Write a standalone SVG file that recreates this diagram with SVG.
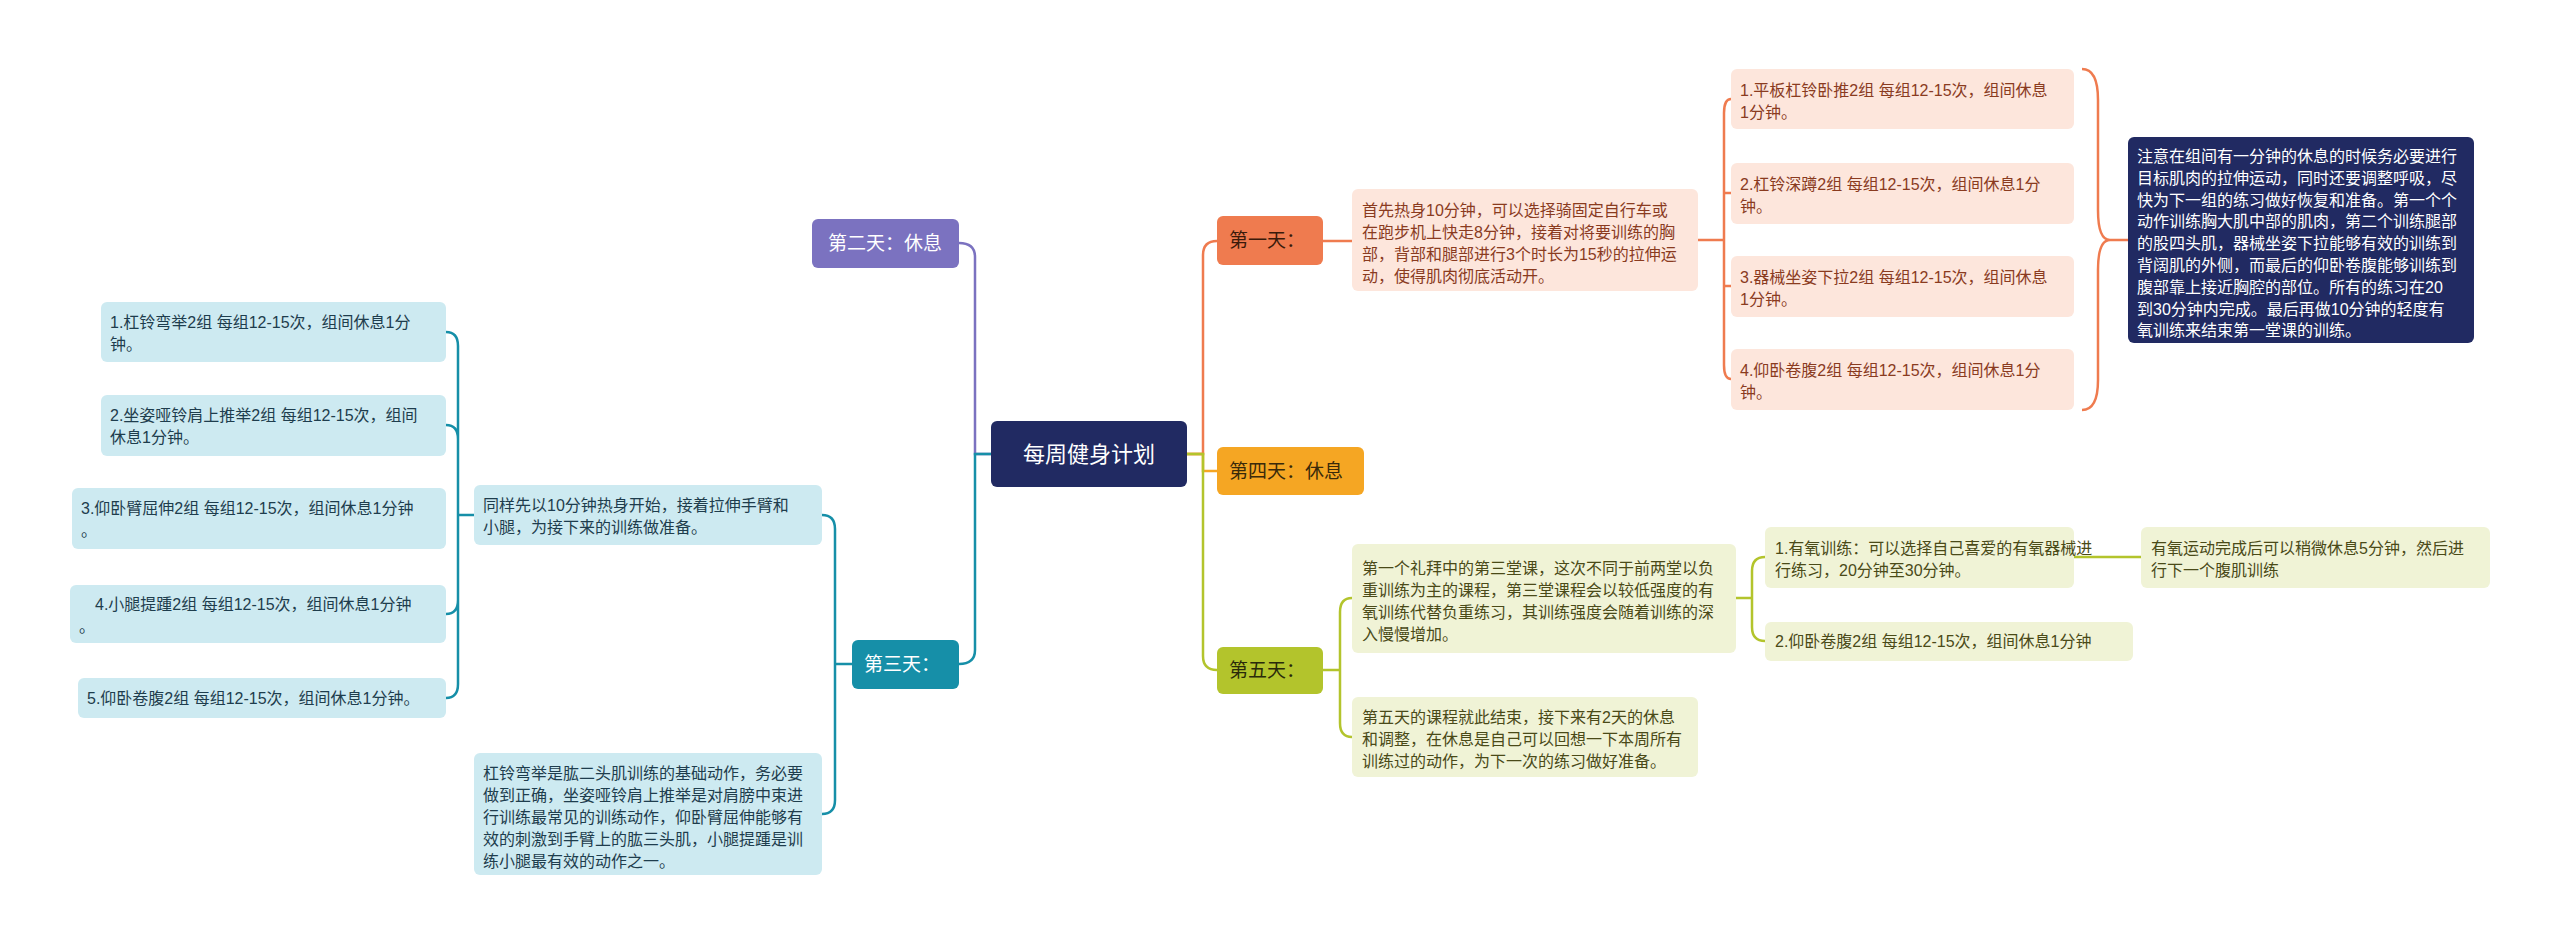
<svg xmlns="http://www.w3.org/2000/svg" width="2560" height="946" viewBox="0 0 2560 946">
<style>
text{font-family:"Liberation Sans","Noto Sans CJK SC",sans-serif;font-size:16px}
.c{fill:none;stroke-width:2.5}
.o{stroke:#ef7b4f}.p{stroke:#7b72c0}.t{stroke:#168fa8}.y{stroke:#f5a623}.g{stroke:#b3c42c}
.r1{fill:#fde6dc}.r1t{fill:#8a3b1f}
.r3{fill:#cdeaf1}.r3t{fill:#1e3d4d}
.r5{fill:#f0f3d6}.r5t{fill:#4a4a18}
.big{font-size:22px;fill:#fff}
.mid{font-size:19px}
</style>
<rect width="2560" height="946" fill="#fff"/>
<g id="connectors">
<path class="c o" d="M1187 454 H1203 V255 Q1203 241 1217 241"/>
<path class="c y" d="M1187 454 H1203 V471 H1217"/>
<path class="c g" d="M1187 454 H1203 V656 Q1203 670 1217 670"/>
<path class="c p" d="M991 454 H975 V257 Q975 243 959 243"/>
<path class="c t" d="M991 454 H975 V650 Q975 664 959 664"/>
<path class="c o" d="M1323 241 H1352"/>
<path class="c o" d="M1698 240 H1724 M1731 99 Q1724 99 1724 113 V365 Q1724 379 1731 379 M1724 193 Q1724 193 1731 193 M1724 286 H1731"/>
<path class="c o" d="M2082 69 Q2098 69 2098 100 V210 Q2098 240 2110 240 Q2098 240 2098 270 V380 Q2098 410 2082 410 M2110 240 H2128"/>
<path class="c g" d="M1323 670 H1340 M1352 598 Q1340 598 1340 612 V723 Q1340 737 1352 737"/>
<path class="c g" d="M1736 598 H1752 M1765 557 Q1752 557 1752 571 V627 Q1752 641 1765 641"/>
<path class="c g" d="M2074 557 H2141"/>
<path class="c t" d="M852 664 H835 M822 515 Q835 515 835 529 V800 Q835 814 822 814"/>
<path class="c t" d="M474 515 H458 M446 332 Q458 332 458 346 V684 Q458 698 446 698 M446 425 Q458 425 458 439 M446 614 Q458 614 458 600"/>
</g>
<g id="center"><rect x="991" y="421" width="196" height="66" rx="6" fill="#212a62"/><text class="big" x="1089" y="462" text-anchor="middle">每周健身计划</text></g>
<g id="day2"><rect x="812" y="219" width="147" height="49" rx="6" fill="#7b72c0"/><text class="mid" x="885" y="250" text-anchor="middle" fill="#fff">第二天：休息</text></g>
<g id="day3"><rect x="852" y="640" width="107" height="49" rx="6" fill="#168fa8"/><text class="mid" x="864" y="671" fill="#fff">第三天：</text></g>
<g id="day1"><rect x="1217" y="216" width="106" height="49" rx="6" fill="#ef7b4f"/><text class="mid" x="1229" y="247" fill="#3a1a0a">第一天：</text></g>
<g id="day4"><rect x="1217" y="447" width="147" height="48" rx="6" fill="#f5a623"/><text class="mid" x="1229" y="478" fill="#3a2a0a">第四天：休息</text></g>
<g id="day5"><rect x="1217" y="647" width="106" height="47" rx="6" fill="#b3c42c"/><text class="mid" x="1229" y="677" fill="#2a2a0a">第五天：</text></g>

<g id="d1desc"><rect class="r1" x="1352" y="189" width="346" height="102" rx="6"/><text class="r1t" x="1362" y="216"><tspan x="1362">首先热身10分钟，可以选择骑固定自行车或</tspan><tspan x="1362" dy="22">在跑步机上快走8分钟，接着对将要训练的胸</tspan><tspan x="1362" dy="22">部，背部和腿部进行3个时长为15秒的拉伸运</tspan><tspan x="1362" dy="22">动，使得肌肉彻底活动开。</tspan></text></g>
<g id="d1i1"><rect class="r1" x="1731" y="69" width="343" height="60" rx="6"/><text class="r1t" x="1740" y="96"><tspan x="1740">1.平板杠铃卧推2组 每组12-15次，组间休息</tspan><tspan x="1740" dy="22">1分钟。</tspan></text></g>
<g id="d1i2"><rect class="r1" x="1731" y="163" width="343" height="61" rx="6"/><text class="r1t" x="1740" y="190"><tspan x="1740">2.杠铃深蹲2组 每组12-15次，组间休息1分</tspan><tspan x="1740" dy="22">钟。</tspan></text></g>
<g id="d1i3"><rect class="r1" x="1731" y="256" width="343" height="61" rx="6"/><text class="r1t" x="1740" y="283"><tspan x="1740">3.器械坐姿下拉2组 每组12-15次，组间休息</tspan><tspan x="1740" dy="22">1分钟。</tspan></text></g>
<g id="d1i4"><rect class="r1" x="1731" y="349" width="343" height="61" rx="6"/><text class="r1t" x="1740" y="376"><tspan x="1740">4.仰卧卷腹2组 每组12-15次，组间休息1分</tspan><tspan x="1740" dy="22">钟。</tspan></text></g>
<g id="d1note"><rect x="2128" y="137" width="346" height="206" rx="6" fill="#212a62"/><text x="2137" y="162" fill="#fff"><tspan x="2137">注意在组间有一分钟的休息的时候务必要进行</tspan><tspan x="2137" dy="21.8">目标肌肉的拉伸运动，同时还要调整呼吸，尽</tspan><tspan x="2137" dy="21.8">快为下一组的练习做好恢复和准备。第一个个</tspan><tspan x="2137" dy="21.8">动作训练胸大肌中部的肌肉，第二个训练腿部</tspan><tspan x="2137" dy="21.8">的股四头肌，器械坐姿下拉能够有效的训练到</tspan><tspan x="2137" dy="21.8">背阔肌的外侧，而最后的仰卧卷腹能够训练到</tspan><tspan x="2137" dy="21.8">腹部靠上接近胸腔的部位。所有的练习在20</tspan><tspan x="2137" dy="21.8">到30分钟内完成。最后再做10分钟的轻度有</tspan><tspan x="2137" dy="21.8">氧训练来结束第一堂课的训练。</tspan></text></g>

<g id="d5desc1"><rect class="r5" x="1352" y="544" width="384" height="109" rx="6"/><text class="r5t" x="1362" y="574"><tspan x="1362">第一个礼拜中的第三堂课，这次不同于前两堂以负</tspan><tspan x="1362" dy="22">重训练为主的课程，第三堂课程会以较低强度的有</tspan><tspan x="1362" dy="22">氧训练代替负重练习，其训练强度会随着训练的深</tspan><tspan x="1362" dy="22">入慢慢增加。</tspan></text></g>
<g id="d5i1"><rect class="r5" x="1765" y="527" width="309" height="61" rx="6"/><text class="r5t" x="1775" y="554"><tspan x="1775">1.有氧训练：可以选择自己喜爱的有氧器械进</tspan><tspan x="1775" dy="22">行练习，20分钟至30分钟。</tspan></text></g>
<g id="d5i1c"><rect class="r5" x="2141" y="527" width="349" height="61" rx="6"/><text class="r5t" x="2151" y="554"><tspan x="2151">有氧运动完成后可以稍微休息5分钟，然后进</tspan><tspan x="2151" dy="22">行下一个腹肌训练</tspan></text></g>
<g id="d5i2"><rect class="r5" x="1765" y="622" width="368" height="39" rx="6"/><text class="r5t" x="1775" y="647">2.仰卧卷腹2组 每组12-15次，组间休息1分钟</text></g>
<g id="d5desc2"><rect class="r5" x="1352" y="697" width="346" height="80" rx="6"/><text class="r5t" x="1362" y="723"><tspan x="1362">第五天的课程就此结束，接下来有2天的休息</tspan><tspan x="1362" dy="22">和调整，在休息是自己可以回想一下本周所有</tspan><tspan x="1362" dy="22">训练过的动作，为下一次的练习做好准备。</tspan></text></g>

<g id="d3desc1"><rect class="r3" x="474" y="485" width="348" height="60" rx="6"/><text class="r3t" x="483" y="511"><tspan x="483">同样先以10分钟热身开始，接着拉伸手臂和</tspan><tspan x="483" dy="22">小腿，为接下来的训练做准备。</tspan></text></g>
<g id="d3desc2"><rect class="r3" x="474" y="753" width="348" height="122" rx="6"/><text class="r3t" x="483" y="779"><tspan x="483">杠铃弯举是肱二头肌训练的基础动作，务必要</tspan><tspan x="483" dy="22">做到正确，坐姿哑铃肩上推举是对肩膀中束进</tspan><tspan x="483" dy="22">行训练最常见的训练动作，仰卧臂屈伸能够有</tspan><tspan x="483" dy="22">效的刺激到手臂上的肱三头肌，小腿提踵是训</tspan><tspan x="483" dy="22">练小腿最有效的动作之一。</tspan></text></g>
<g id="d3i1"><rect class="r3" x="101" y="302" width="345" height="60" rx="6"/><text class="r3t" x="110" y="328"><tspan x="110">1.杠铃弯举2组 每组12-15次，组间休息1分</tspan><tspan x="110" dy="22">钟。</tspan></text></g>
<g id="d3i2"><rect class="r3" x="101" y="395" width="345" height="61" rx="6"/><text class="r3t" x="110" y="421"><tspan x="110">2.坐姿哑铃肩上推举2组 每组12-15次，组间</tspan><tspan x="110" dy="22">休息1分钟。</tspan></text></g>
<g id="d3i3"><rect class="r3" x="72" y="488" width="374" height="61" rx="6"/><text class="r3t" x="81" y="514"><tspan x="81">3.仰卧臂屈伸2组 每组12-15次，组间休息1分钟</tspan><tspan x="81" dy="22">。</tspan></text></g>
<g id="d3i4"><rect class="r3" x="70" y="585" width="376" height="58" rx="6"/><text class="r3t" x="79" y="610"><tspan x="95">4.小腿提踵2组 每组12-15次，组间休息1分钟</tspan><tspan x="79" dy="22">。</tspan></text></g>
<g id="d3i5"><rect class="r3" x="78" y="678" width="368" height="40" rx="6"/><text class="r3t" x="87" y="704">5.仰卧卷腹2组 每组12-15次，组间休息1分钟。</text></g>
</svg>
